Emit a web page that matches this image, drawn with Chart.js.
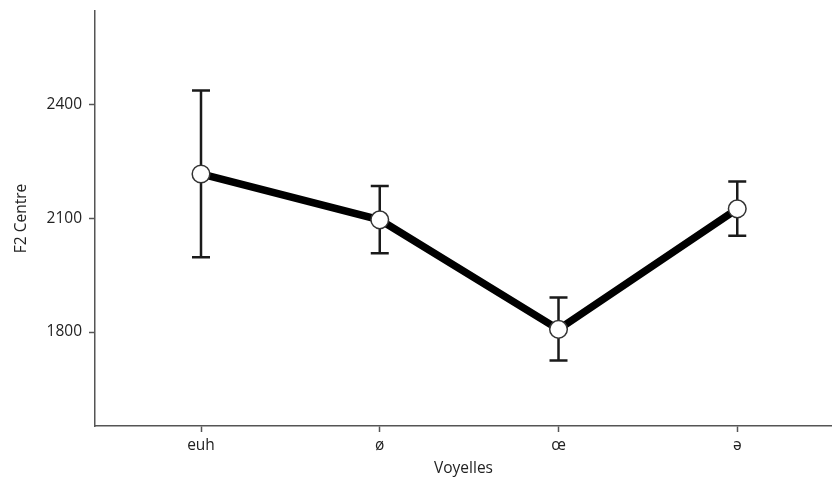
<!DOCTYPE html>
<html>
<head>
<meta charset="utf-8">
<script src="https://cdn.jsdelivr.net/npm/chart.js@4/dist/chart.umd.min.js"></script>
<style>
html,body{margin:0;padding:0;background:#fff;}
#wrap{width:832px;height:479px;position:relative;}
</style>
</head>
<body>
<div id="wrap"><canvas id="c" width="832" height="479"></canvas></div>
<script>
const categories = ["euh", "ø", "œ", "ə"];
const meanValues = [2217, 2096, 1807, 2125];
const upperValues = [2437, 2185, 1891, 2197];
const lowerValues = [1997, 2008, 1725, 2054];
const yTickValues = [1800, 2100, 2400];

const FONT = "'Open Sans', 'Liberation Sans', sans-serif";

const errorBars = {
  id: 'errorBars',
  beforeDatasetsDraw(chart) {
    const ctx = chart.ctx, xs = chart.scales.x, ys = chart.scales.y;
    ctx.save();
    ctx.strokeStyle = '#1a1a1a';
    ctx.lineWidth = 2.5;
    ctx.lineCap = 'butt';
    categories.forEach((c, i) => {
      const x = xs.getPixelForValue(i);
      const yt = ys.getPixelForValue(upperValues[i]);
      const yb = ys.getPixelForValue(lowerValues[i]);
      ctx.beginPath();
      ctx.moveTo(x, yt); ctx.lineTo(x, yb);
      ctx.moveTo(x - 9, yt); ctx.lineTo(x + 9, yt);
      ctx.moveTo(x - 9, yb); ctx.lineTo(x + 9, yb);
      ctx.stroke();
    });
    ctx.restore();
  }
};

new Chart(document.getElementById('c'), {
  type: 'line',
  data: {
    datasets: [{
      data: meanValues.map((v, i) => ({x: i, y: v})),
      borderColor: '#000',
      borderWidth: 7.5,
      pointRadius: 8.8,
      pointBackgroundColor: '#fff',
      pointBorderColor: '#333',
      pointBorderWidth: 1.5,
      tension: 0,
      fill: false,
      clip: false
    }]
  },
  options: {
    responsive: false,
    animation: false,
    layout: {autoPadding: false, padding: {top: 11, right: 0, left: 0, bottom: 0}},
    plugins: {legend: {display: false}, tooltip: {enabled: false}},
    scales: {
      x: {
        type: 'linear',
        min: -0.593,
        max: 3.53,
        afterBuildTicks: s => { s.ticks = categories.map((c, i) => ({value: i})); },
        afterFit: s => { s.height = 53; s.paddingLeft = 0; s.paddingRight = 0; },
        ticks: {
          callback: v => categories[v],
          color: '#222',
          font: {family: FONT, size: 15.5},
          padding: 4,
          maxRotation: 0
        },
        grid: {drawOnChartArea: false, color: '#555', tickLength: 6, tickWidth: 1.5},
        border: {color: '#555', width: 1.5},
        title: {display: true, text: 'Voyelles', color: '#222', font: {family: FONT, size: 15.5}, padding: {top: 0, bottom: 1}}
      },
      y: {
        type: 'linear',
        min: 1552,
        max: 2647,
        afterBuildTicks: s => { s.ticks = yTickValues.map(v => ({value: v})); },
        afterFit: s => { s.width = 95; s.paddingTop = 0; s.paddingBottom = 0; },
        ticks: {
          callback: v => String(v),
          color: '#222',
          font: {family: FONT, size: 15.5},
          padding: 7
        },
        grid: {drawOnChartArea: false, color: '#555', tickLength: 6, tickWidth: 1.5},
        border: {color: '#555', width: 1.5},
        title: {display: true, text: 'F2 Centre', color: '#222', font: {family: FONT, size: 15.5}, padding: {top: 12, bottom: 0}}
      }
    }
  },
  plugins: [errorBars]
});
</script>
</body>
</html>
